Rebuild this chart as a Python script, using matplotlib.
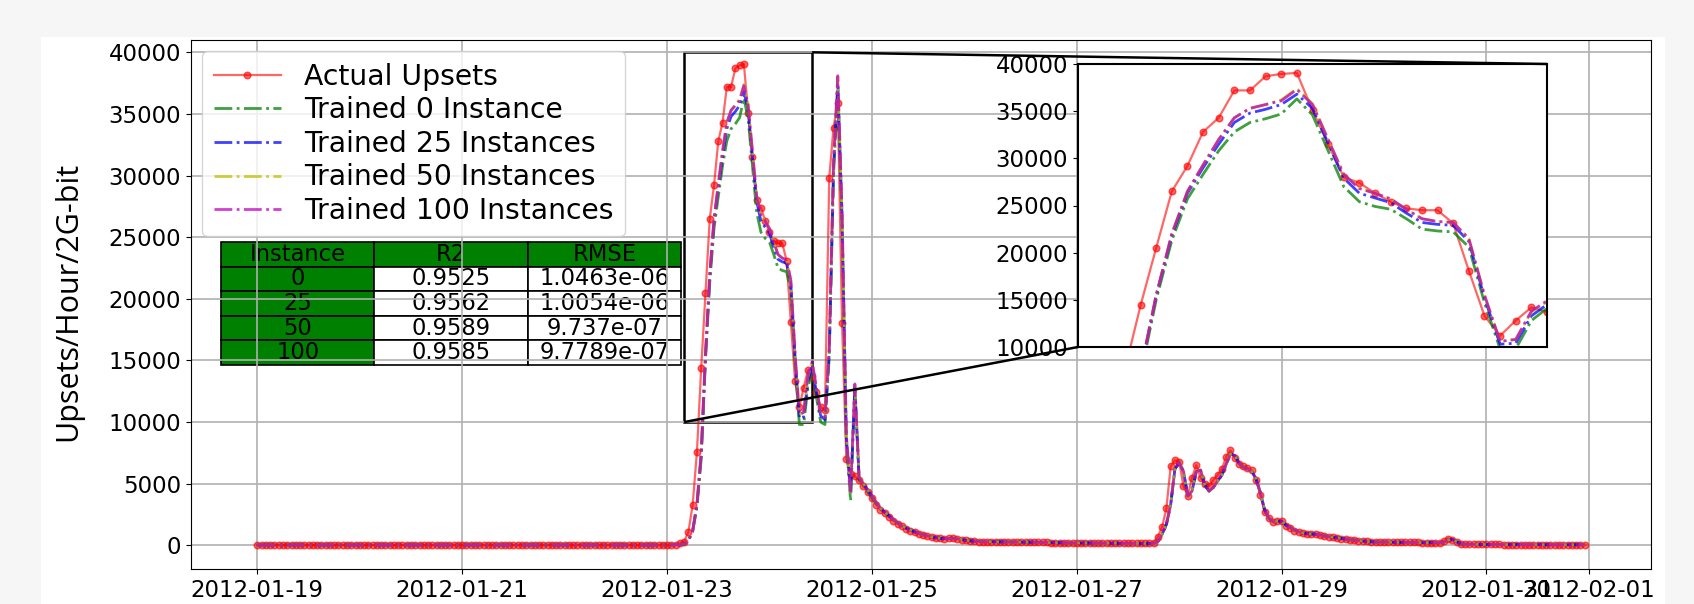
import numpy as np
import pandas as pd
import matplotlib
matplotlib.use("Agg")
import matplotlib.pyplot as plt
from matplotlib.patches import Rectangle
from mpl_toolkits.axes_grid1.inset_locator import mark_inset

# hourly timestamps, 2012-01-19 00:00 onwards
start = "2012-01-19 00:00"

# quiet stretch before the first storm (h0 - h98), all series sit on it
flat_early = [
    30, 30, 30, 30, 30, 30, 30, 30, 30, 30, 30, 30, 30, 30, 30, 30, 30, 30, 30, 30,
    30, 30, 30, 30, 30, 30, 30, 30, 30, 30, 30, 30, 30, 30, 30, 30, 30, 30, 30, 30,
    30, 30, 30, 30, 30, 30, 30, 30, 30, 30, 30, 30, 30, 30, 30, 30, 30, 30, 30, 30,
    30, 30, 30, 30, 30, 30, 30, 30, 30, 30, 30, 30, 30, 30, 30, 30, 30, 30, 30, 30,
    30, 30, 30, 30, 30, 30, 30, 30, 30, 30, 30, 30, 30, 30, 30, 30, 30, 40, 60,
]

# storm window h99 - h145
actual_peak = [
    150, 300, 1100, 3300, 7600, 14400, 20500, 26500, 29200, 32800,
    34300, 37200, 37200, 38700, 38950, 39050, 35100, 31500, 28000, 27400,
    26300, 25400, 24700, 24500, 24500, 23100, 18100, 13300, 11200, 12800,
    14200, 13700, 12400, 11200, 11000, 29800, 33900, 35900, 18000, 7000,
    5800, 5600, 5300, 4800, 4300, 3800, 3300,
]
trained_0_peak = [
    50, 110, 380, 1100, 3100, 7000, 15000, 21300, 25700, 28300,
    30800, 32800, 33800, 34200, 34700, 36300, 34600, 30800, 27000, 25400,
    24900, 24600, 23600, 22500, 22300, 22200, 20600, 14700, 9800, 9800,
    12800, 14100, 12000, 10000, 9800, 15200, 30000, 37000, 26000, 8500,
    3600, 12600, 5300, 4900, 4400, 3900, 3400,
]
trained_25_peak = [
    50, 120, 400, 1200, 3300, 7400, 15400, 21800, 26300, 29000,
    31500, 33800, 34800, 35200, 35700, 36800, 35300, 31600, 27900, 26300,
    25800, 25300, 24200, 23200, 23000, 22900, 21200, 15200, 10300, 10400,
    13300, 14500, 12400, 10500, 10200, 15700, 30600, 37600, 26700, 8800,
    4100, 12900, 5400, 5000, 4500, 4000, 3500,
]
trained_50_peak = [
    50, 120, 400, 1200, 3300, 7500, 15500, 22000, 26500, 29300,
    32000, 34300, 35300, 35700, 36200, 37400, 35800, 32000, 28300, 26800,
    26300, 25700, 24600, 23600, 23300, 23200, 21500, 15500, 10600, 10800,
    13700, 14800, 12700, 10800, 10400, 16000, 31000, 38000, 27000, 9000,
    4300, 13000, 5500, 5000, 4500, 4000, 3500,
]
trained_100_peak = [
    50, 120, 400, 1200, 3300, 7500, 15500, 22000, 26500, 29300,
    32000, 34300, 35300, 35700, 36100, 37300, 35700, 32000, 28300, 26800,
    26300, 25700, 24600, 23600, 23300, 23200, 21500, 15500, 10600, 10800,
    13800, 14900, 12800, 10800, 10400, 16000, 31000, 38100, 27000, 9000,
    4400, 13100, 5500, 5000, 4500, 4000, 3500,
]

# decay, second event and tail h146 - h311
actual_late = [
    2900, 2600, 2300, 2000, 1750, 1550, 1350, 1200, 1050, 950,
    850, 750, 650, 600, 560, 540, 560, 580, 520, 450,
    400, 360, 330, 310, 300, 300, 290, 290, 280, 280,
    270, 270, 260, 260, 250, 250, 240, 240, 230, 230,
    220, 220, 210, 210, 200, 200, 200, 190, 190, 190,
    180, 180, 180, 170, 170, 170, 160, 160, 160, 150,
    150, 150, 150, 150, 200, 700, 1500, 3000, 6400, 6900,
    6800, 4800, 4000, 5500, 6500, 5500, 5000, 4800, 5300, 5700,
    6200, 7200, 7700, 7100, 6600, 6400, 6300, 6100, 5300, 4100,
    2700, 2200, 1900, 2000, 2000, 1600, 1400, 1200, 1100, 1000,
    950, 920, 900, 850, 750, 700, 650, 600, 550, 500,
    450, 420, 380, 350, 320, 290, 270, 260, 260, 250,
    250, 240, 240, 240, 230, 230, 230, 220, 220, 220,
    220, 220, 330, 550, 420, 250, 100, 80, 80, 80,
    70, 70, 70, 70, 70, 70, 60, 60, 60, 60,
    60, 60, 60, 60, 60, 60, 50, 50, 50, 50,
    50, 50, 50, 50, 50, 50,
]
trained_late = [
    3000, 2700, 2400, 2100, 1850, 1600, 1400, 1250, 1100, 980,
    880, 780, 680, 620, 570, 540, 550, 570, 540, 470,
    410, 370, 340, 320, 300, 300, 290, 290, 280, 280,
    270, 270, 260, 260, 250, 250, 240, 240, 230, 230,
    220, 220, 210, 210, 200, 200, 200, 190, 190, 190,
    180, 180, 180, 170, 170, 170, 160, 160, 160, 150,
    150, 150, 150, 150, 160, 300, 900, 1700, 3300, 6200,
    6700, 6000, 4000, 4400, 6000, 6100, 4900, 4400, 4700, 5200,
    5700, 6600, 7400, 7300, 6700, 6300, 6200, 6000, 5400, 4300,
    2900, 2200, 1900, 1950, 1950, 1650, 1450, 1250, 1100, 1000,
    950, 920, 900, 860, 770, 710, 660, 610, 560, 510,
    460, 420, 390, 350, 320, 290, 270, 260, 260, 250,
    250, 240, 240, 240, 230, 230, 230, 220, 220, 220,
    220, 220, 250, 450, 480, 300, 120, 80, 80, 80,
    70, 70, 70, 70, 70, 70, 60, 60, 60, 60,
    60, 60, 60, 60, 60, 60, 50, 50, 50, 50,
    50, 50, 50, 50, 50, 50,
]

series_labels = ["Actual Upsets", "Trained 0 Instance", "Trained 25 Instances",
                 "Trained 50 Instances", "Trained 100 Instances"]

table_cols = ["Instance", "R2", "RMSE"]
table_rows = [
    ["0", "0.9525", "1.0463e-06"],
    ["25", "0.9562", "1.0054e-06"],
    ["50", "0.9589", "9.737e-07"],
    ["100", "0.9585", "9.7789e-07"],
]

zoom_start, zoom_end = 100, 130   # hour indices shown in the inset
zoom_ylim = (10000, 40000)

actual = flat_early + actual_peak + actual_late
trained = [
    flat_early + trained_0_peak + trained_late,
    flat_early + trained_25_peak + trained_late,
    flat_early + trained_50_peak + trained_late,
    flat_early + trained_100_peak + trained_late,
]
dates = pd.date_range(start, periods=len(actual), freq="h")

styles = ["g-.", "b-.", "y-.", "m-."]

plt.rcParams["font.family"] = ["DejaVu Sans"]
fig = plt.figure(figsize=(16.94, 6.04), dpi=100, facecolor="#f6f6f6")
# white figure area pasted on the grey slide
fig.patches.append(Rectangle((41 / 1694, 0), (1665 - 41) / 1694, 1 - 37 / 604,
                             transform=fig.transFigure, facecolor="white",
                             edgecolor="none", zorder=-10))

ax = fig.add_axes([191 / 1694, 1 - 569 / 604, (1651 - 191) / 1694, (569 - 40) / 604])


def draw_series(a):
    a.plot(dates, actual, "r-", marker="o", ms=4.8, lw=1.6, alpha=0.6,
           label=series_labels[0])
    for vals, st, lab in zip(trained, styles, series_labels[1:]):
        a.plot(dates, vals, st, lw=2, alpha=0.75, label=lab)


draw_series(ax)
ax.grid(True, color="#b0b0b0", lw=1.2)
ax.tick_params(labelsize=16.5)
ax.set_ylabel("Upsets/Hour/2G-bit", fontsize=22, family=["Open Sans", "DejaVu Sans"])
ax.yaxis.set_label_coords(-0.074, 0.505)

ax.legend(loc="upper left", fontsize=20.3, labelspacing=0.2, handlelength=2.4,
          borderaxespad=0.4, framealpha=0.8)

cell_colours = [["green", "white", "white"] for _ in table_rows]
tbl = ax.table(cellText=table_rows, colLabels=table_cols, cellLoc="center",
               cellColours=cell_colours, colColours=["green"] * 3,
               bbox=[(221 - 191) / 1460, (569 - 365) / 529, 460 / 1460, 123 / 529])
tbl.auto_set_font_size(False)
tbl.set_fontsize(16.3)
for cell in tbl.get_celld().values():
    cell.set_linewidth(1.2)

# zoomed inset on the first storm
axins = fig.add_axes([1078 / 1694, 1 - 347 / 604, (1547 - 1078) / 1694, (347 - 64) / 604])
draw_series(axins)
axins.set_xlim(dates[zoom_start], dates[zoom_end])
axins.set_ylim(*zoom_ylim)
axins.set_xticks([])
axins.tick_params(labelsize=16.5)
for sp in axins.spines.values():
    sp.set_linewidth(1.5)
mark_inset(ax, axins, loc1=1, loc2=3, fc="none", ec="black", lw=1.8)

fig.savefig("out.png", dpi=100, facecolor=fig.get_facecolor())
